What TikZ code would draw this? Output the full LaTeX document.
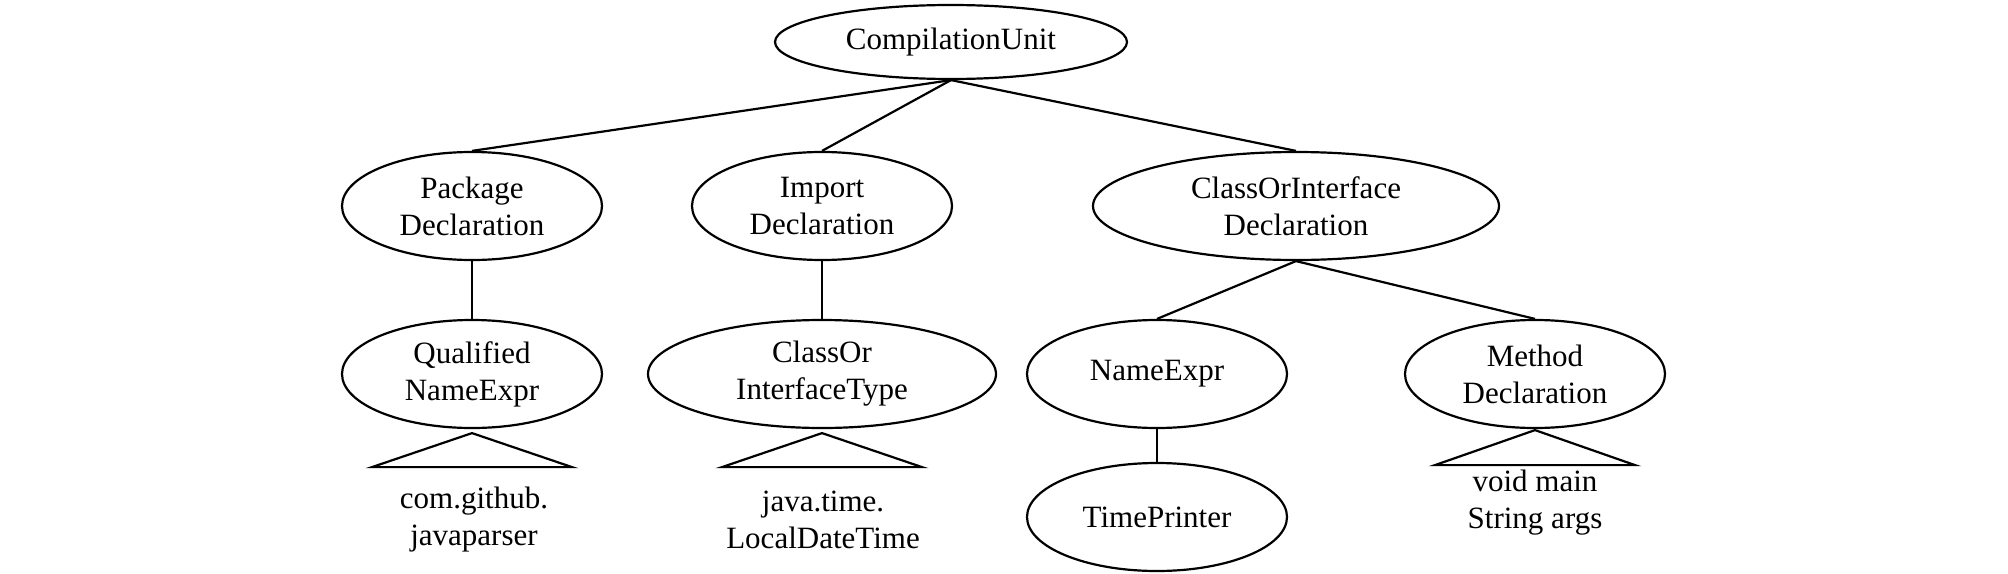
\documentclass[tikz,border=0pt]{standalone}
\usepackage{fontspec}
\setmainfont{Liberation Serif}
\usetikzlibrary{shapes.geometric}
\begin{document}
\begin{tikzpicture}[x=0.5pt,y=-0.5pt,
  every node/.style={font=\fontsize{15.5}{18.5}\selectfont, align=center},
  tn/.style={draw, ellipse, line width=1.1pt, inner sep=0pt,
             minimum width=130pt, minimum height=54pt},
  edge/.style={line width=1.1pt},
  tri/.style={line width=1.1pt, line join=miter},
  leaf/.style={inner sep=0pt}]
\useasboundingbox (0,0) rectangle (2008,573);
% nodes
\node[tn, minimum width=176pt, minimum height=37pt] (cu) at (951,42) {CompilationUnit};
\node[tn] (pd) at (472,206) {Package\\Declaration};
\node[tn] (id) at (822,206) {Import\\Declaration};
\node[tn, minimum width=203pt] (cid) at (1296,206) {ClassOrInterface\\Declaration};
\node[tn] (qn) at (472,374) {Qualified\\NameExpr};
\node[tn, minimum width=174pt] (cit) at (822,374) {ClassOr\\InterfaceType};
\node[tn] (ne) at (1157,374) {NameExpr};
\node[tn] (md) at (1535,374) {Method\\Declaration};
\node[tn] (tp) at (1157,517) {TimePrinter};
% leaf texts
\node[leaf] (qnt) at (474,520) {com.github.\\javaparser};
\node[leaf] (citt) at (823,520) {java.time.\\LocalDateTime};
\node[leaf] (mdt) at (1535,503) {void main\\String args};
% edges
\draw[edge] (cu.south) -- (pd.north);
\draw[edge] (cu.south) -- (id.north);
\draw[edge] (cu.south) -- (cid.north);
\draw[edge] (pd.south) -- (qn.north);
\draw[edge] (id.south) -- (cit.north);
\draw[edge] (cid.south) -- (ne.north);
\draw[edge] (cid.south) -- (md.north);
\draw[edge] (ne.south) -- (tp.north);
% triangles (collapsed subtrees)
\draw[tri] (qn.south) ++(0,4) coordinate (qa) -- ++(-100,34) -- ++(200,0) -- cycle;
\draw[tri] (cit.south) ++(0,4) coordinate (ca) -- ++(-100,34) -- ++(200,0) -- cycle;
\draw[tri] (md.south) ++(0,1) coordinate (ma) -- ++(-100,35) -- ++(200,0) -- cycle;
\end{tikzpicture}
\end{document}
